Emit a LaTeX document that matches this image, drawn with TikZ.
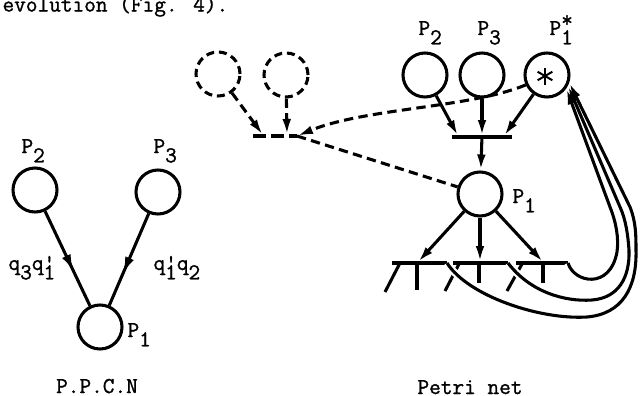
\documentclass[tikz,border=0pt]{standalone}
\usepackage{fontspec}
\newfontfamily\tw{Latin Modern Mono}[FakeBold=1.2]
\usetikzlibrary{arrows.meta,decorations.markings}
% lowered index, set at full size as on a typewriter
\newcommand\sbx[1]{\raisebox{-7pt}{#1}}
\begin{document}
\begin{tikzpicture}[x=0.75pt,y=-0.75pt,line width=2.3pt,
  place/.style={circle,draw,minimum size=33pt,inner sep=0pt},
  ghost/.style={place,dash pattern=on 6pt off 3.6pt},
  arr/.style={-{Latex[length=12pt,width=6.5pt]}},
  dashedge/.style={dash pattern=on 7pt off 4pt},
  txt/.style={font=\tw\fontsize{17pt}{20pt}\selectfont,inner sep=0pt,anchor=base west},
  midtip/.style={postaction={decorate},decoration={markings,
      mark=at position #1 with {\arrow{Latex[length=13pt,width=7pt]}}}},
  gap/.style={draw=white,line width=5.5pt}]
\useasboundingbox (0,0) rectangle (640,396);
\clip (0,0) rectangle (640,396);

% running text
\node[txt] (head) at (1,11.5) {evolution (Fig. 4).};

% ---------- P.P.C.N ----------
\node[place] (L2) at (35,190) {};
\node[place] (L3) at (158,192) {};
\node[place] (L1) at (100,327) {};
\node[txt] (lp2) at (20,153) {P\sbx{2}};
\node[txt] (lp3) at (152,153) {P\sbx{3}};
\node[txt] (lp1) at (126,337) {P\sbx{1}};
\draw[midtip=0.64] (L2) -- (L1);
\draw[midtip=0.66] (L3) -- (L1);
\node[txt] (q31) at (7,270) {q\sbx{3}q\rlap{'}\sbx{1}};
\node[txt] (q12) at (152,270) {q\rlap{'}\sbx{1}q\sbx{2}};
\node[txt,anchor=base] (cap1) at (97,393) {P.P.C.N};

% ---------- Petri net ----------
% dashed copy of the input transition
\node[ghost] (D1) at (218,74) {};
\node[ghost] (D2) at (286,75) {};
\coordinate (dtL) at (253,136);
\coordinate (dtR) at (297,136);
\coordinate (dt1) at (263,135);
\coordinate (dt2) at (287,135);
\draw[dash pattern=on 10pt off 3.5pt] (dtL) -- (dtR);
\draw[dashedge,arr] (D1) -- (dt1);
\draw[dashedge,arr] (D2) -- (dt2);

% input places
\node[place] (R2) at (425,75) {};
\node[place] (R3) at (482,75) {};
\node[place] (R1s) at (547,75) {};
\foreach \a in {90,30,150}
  \draw[line width=1.5pt,shift={(545,76)}] (\a:8.5) -- (\a+180:8.5);
\node[txt] (rp2) at (417,35) {P\sbx{2}};
\node[txt] (rp3) at (476,35) {P\sbx{3}};
\node[txt] (rp1s) at (548,35) {P\rlap{\raisebox{6pt}{*}}\sbx{1}};

% input transition
\coordinate (t0L) at (452,137);
\coordinate (t0R) at (512,137);
\coordinate (t0a) at (458,136);
\coordinate (t0b) at (482,136);
\coordinate (t0c) at (504,136);
\draw (t0L) -- (t0R);
\draw[arr] (R2) -- (t0a);
\draw[arr] (R3) -- (t0b);
\draw[arr] (R1s) -- (t0c);

% place P1
\node[place] (R1) at (480,194) {};
\node[txt] (rp1) at (511,203) {P\sbx{1}};
\draw[arr] (t0b) -- (R1);

% dashed links
\draw[dashedge] (dtR) -- (R1);
\draw[dashedge,arr] (R1s.205) .. controls (470,108) and (365,108) .. (dtR);

% output transitions
\coordinate (b1L) at (392,263); \coordinate (b1R) at (447,263);
\coordinate (b2L) at (453,263); \coordinate (b2R) at (508,263);
\coordinate (b3L) at (516,263); \coordinate (b3R) at (568,263);
\coordinate (b1in) at (418,262);
\coordinate (b2in) at (480,262);
\coordinate (b3in) at (543,262);
\draw (b1L) -- (b1R);
\draw (b2L) -- (b2R);
\draw (b3L) -- (b3R);
\draw[arr] (R1) -- (b1in);
\draw[arr] (R1) -- (b2in);
\draw[arr] (R1) -- (b3in);
\draw (417,263) -- (417,290);
\draw (479,263) -- (479,283);
\draw (543,263) -- (543,283);
\draw (400,263) -- (385,292);
\draw (459,264) -- (445,291);
\draw (522,264) -- (507,291);

% return arcs to P1*
\draw[gap] (b1R) .. controls (468,296) and (540,320) .. (587,317)
  .. controls (622,314) and (637,288) .. (636,250)
  .. controls (636,236) and (636,222) .. (630,207);
\draw[gap] (b2R) .. controls (530,292) and (565,302) .. (592,300)
  .. controls (618,298) and (630,278) .. (629,250)
  .. controls (628,236) and (626,220) .. (620,207);
\draw[gap] (b3R) .. controls (574,283) and (610,290) .. (617,252)
  .. controls (619,238) and (616,222) .. (610,207);
\draw[arr] (b1R) .. controls (468,296) and (540,320) .. (587,317)
  .. controls (622,314) and (637,288) .. (636,250)
  .. controls (636,236) and (636,222) .. (630,207) -- (R1s.-19);
\draw[arr] (b2R) .. controls (530,292) and (565,302) .. (592,300)
  .. controls (618,298) and (630,278) .. (629,250)
  .. controls (628,236) and (626,220) .. (620,207) -- (R1s.-27);
\draw[arr] (b3R) .. controls (574,283) and (610,290) .. (617,252)
  .. controls (619,238) and (616,222) .. (610,207) -- (R1s.-35);

\node[txt,anchor=base] (cap2) at (470,394) {Petri net};
\end{tikzpicture}
\end{document}
